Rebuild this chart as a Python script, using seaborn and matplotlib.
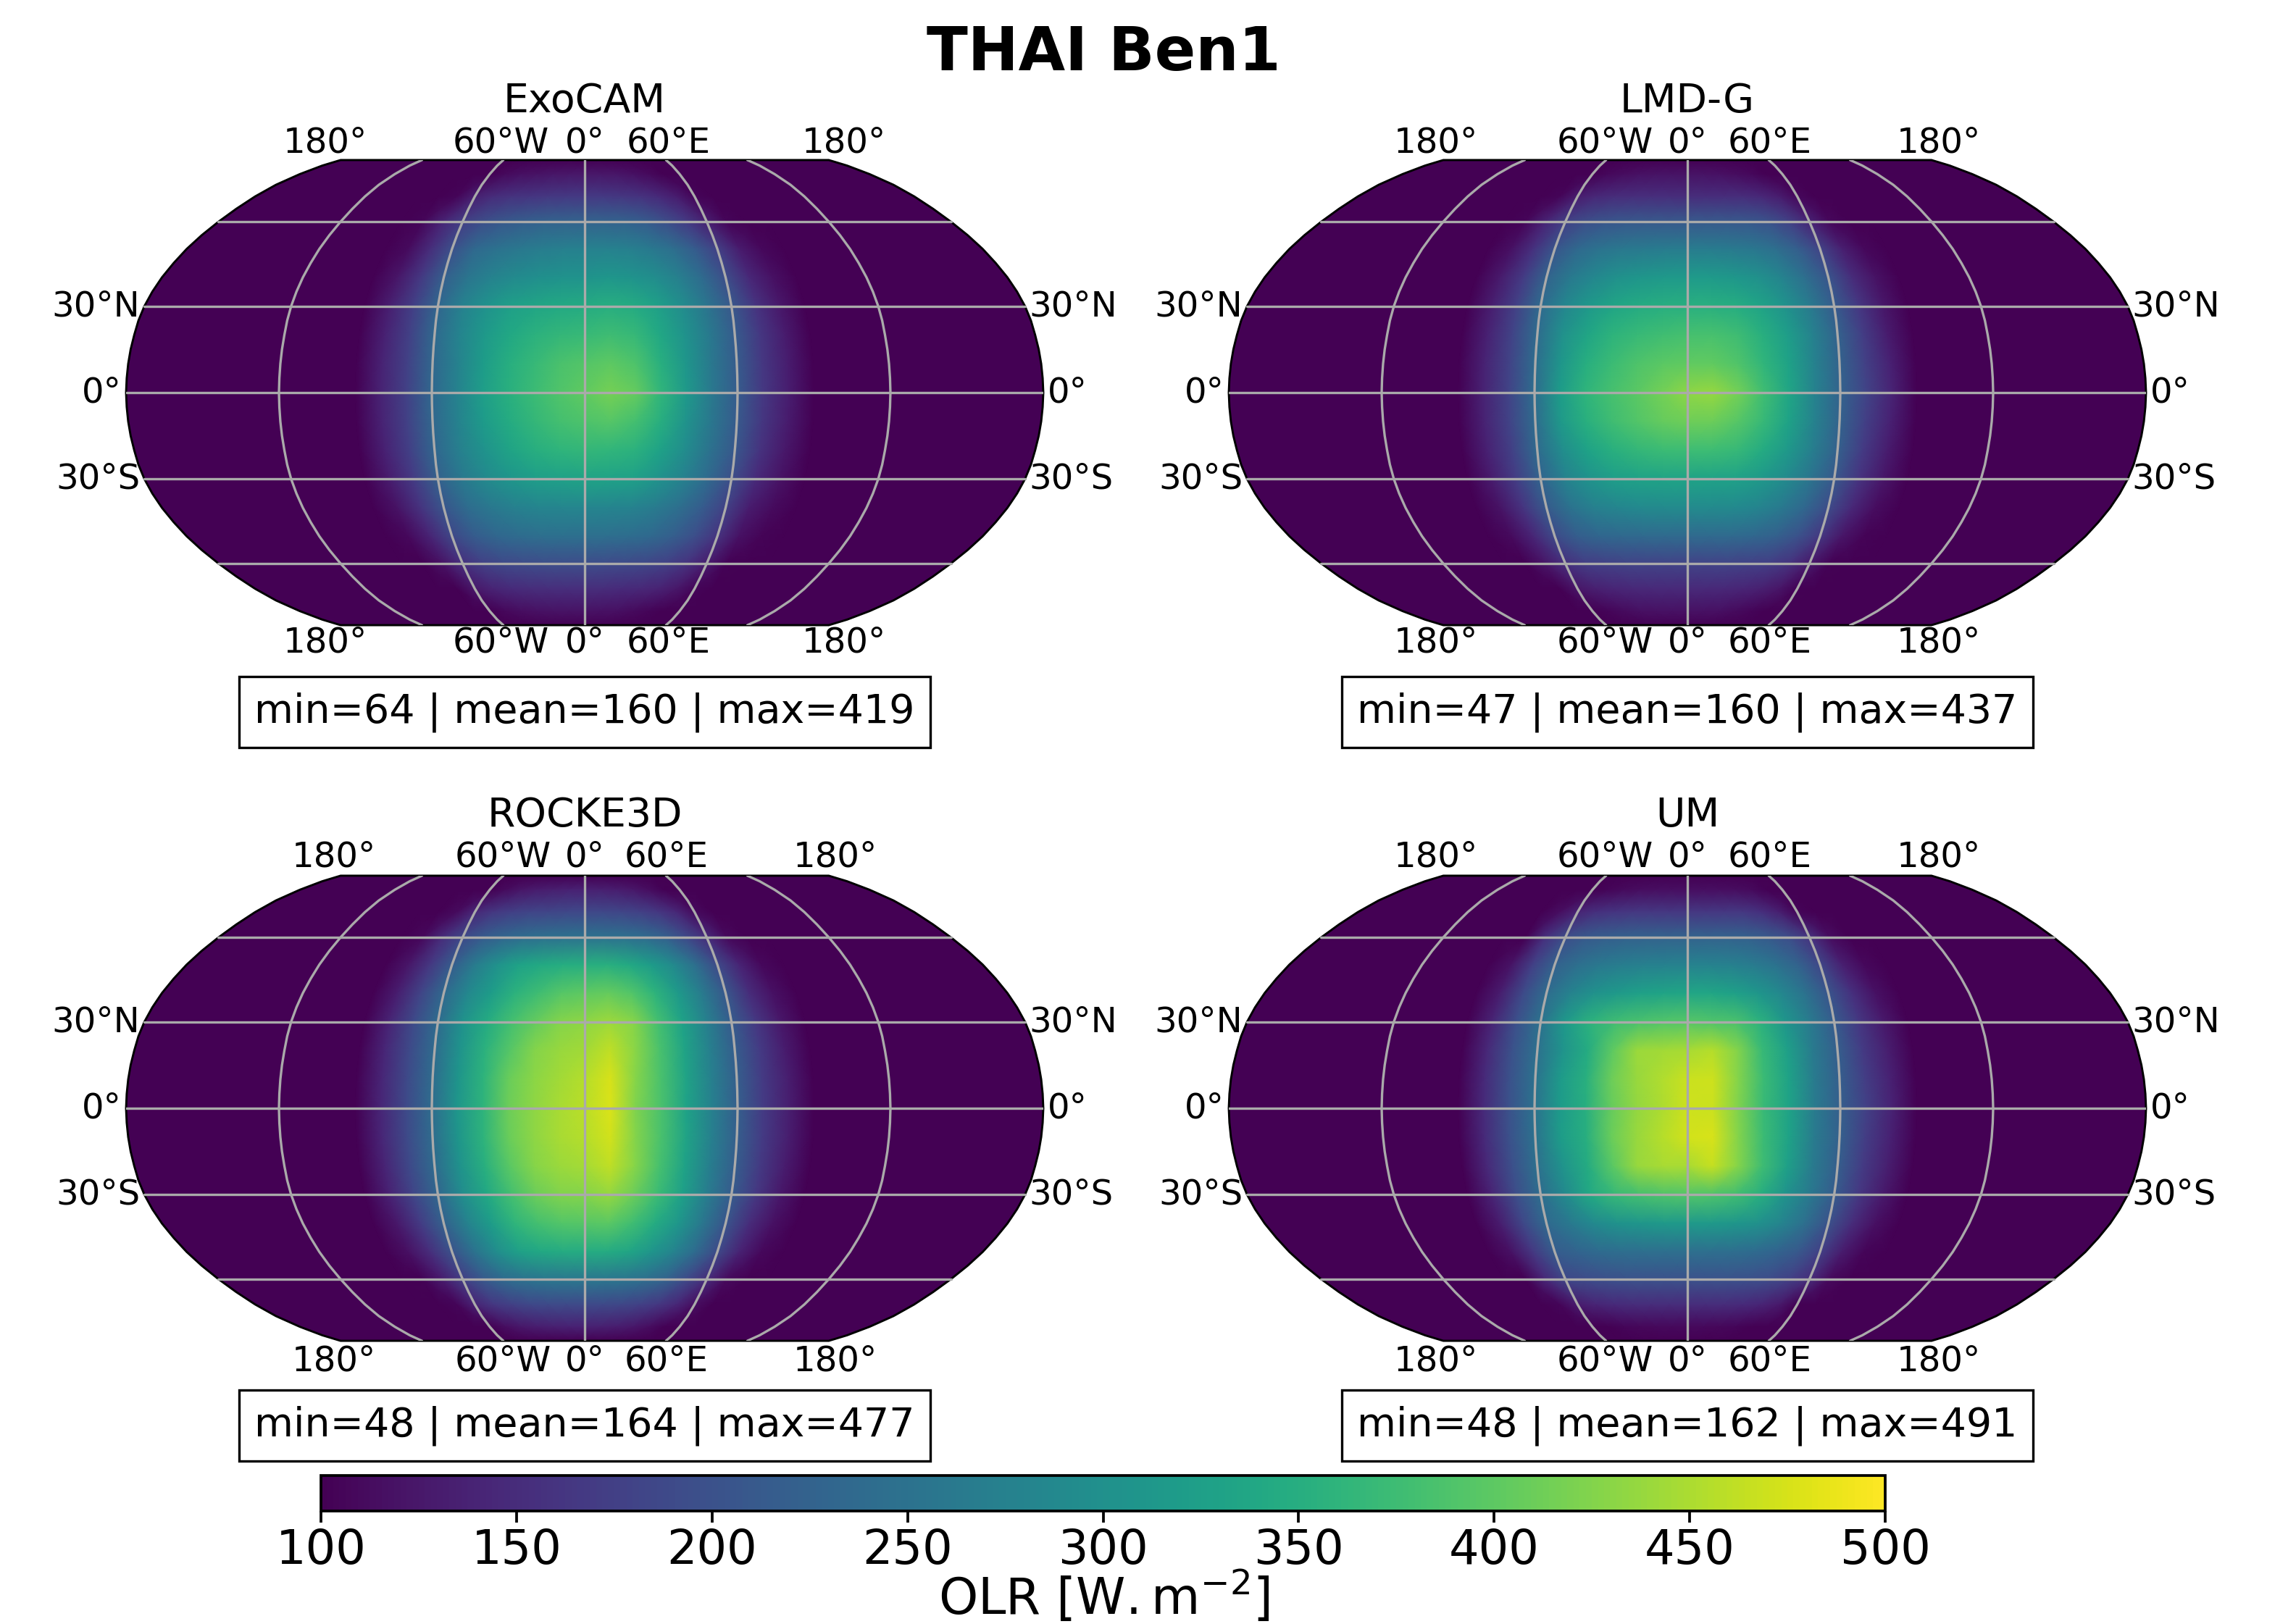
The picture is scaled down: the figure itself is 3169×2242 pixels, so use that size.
import numpy as np
import seaborn as sns
import matplotlib.pyplot as plt
from matplotlib.colors import Normalize
from matplotlib.cm import ScalarMappable
from matplotlib.patches import Polygon

# OLR, rows go from 90N to 90S, columns from 90W to 90E
lat_nodes = [90, 80, 70, 60, 50, 40, 30, 20, 10, 0, -10, -20, -30, -40, -50, -60, -70, -80, -90]
lon_nodes = [-90, -80, -70, -60, -50, -40, -30, -20, -10, 0, 10, 20, 30, 40, 50, 60, 70, 80, 90]

exocam_olr = [
    [90, 90, 90, 90, 90, 90, 90, 90, 90, 90, 90, 90, 90, 90, 90, 90, 90, 90, 90],
    [90, 90, 90, 100, 110, 116, 120, 122, 124, 124, 124, 122, 118, 110, 100, 92, 90, 90, 90],
    [90, 90, 105, 135, 150, 158, 162, 165, 166, 166, 166, 164, 158, 148, 132, 105, 92, 90, 90],
    [90, 105, 140, 172, 195, 208, 218, 224, 226, 226, 226, 224, 215, 195, 170, 135, 105, 90, 90],
    [90, 112, 150, 198, 235, 250, 260, 268, 272, 274, 275, 272, 262, 245, 215, 178, 130, 108, 90],
    [90, 123, 165, 220, 255, 278, 290, 298, 303, 306, 310, 306, 295, 272, 238, 195, 145, 118, 90],
    [90, 133, 175, 232, 275, 305, 325, 335, 342, 345, 350, 345, 325, 295, 255, 210, 160, 125, 90],
    [90, 136, 178, 235, 280, 315, 340, 355, 365, 370, 375, 368, 340, 305, 262, 215, 165, 130, 90],
    [90, 138, 178, 232, 278, 320, 350, 368, 385, 393, 400, 388, 352, 310, 260, 215, 165, 132, 90],
    [90, 138, 178, 232, 278, 322, 352, 372, 390, 402, 417, 405, 362, 315, 260, 215, 165, 132, 90],
    [90, 138, 178, 232, 278, 318, 345, 365, 380, 388, 395, 380, 350, 305, 258, 213, 163, 130, 90],
    [90, 136, 175, 230, 272, 305, 332, 350, 360, 365, 362, 355, 330, 295, 250, 208, 158, 125, 90],
    [90, 130, 170, 222, 262, 290, 310, 322, 328, 332, 330, 325, 305, 275, 238, 195, 148, 120, 90],
    [90, 120, 158, 205, 240, 260, 272, 280, 282, 282, 280, 278, 265, 245, 215, 178, 130, 112, 90],
    [90, 108, 140, 185, 215, 232, 240, 245, 246, 245, 245, 242, 235, 220, 195, 160, 118, 104, 90],
    [90, 100, 120, 155, 178, 188, 192, 195, 195, 195, 192, 190, 185, 175, 158, 130, 102, 92, 90],
    [90, 90, 100, 125, 140, 148, 150, 152, 152, 152, 150, 148, 145, 138, 125, 105, 90, 90, 90],
    [90, 90, 90, 98, 108, 115, 118, 120, 120, 120, 118, 116, 112, 105, 98, 90, 90, 90, 90],
    [90, 90, 90, 90, 90, 90, 90, 90, 90, 90, 90, 90, 90, 90, 90, 90, 90, 90, 90],
]

lmdg_olr = [
    [90, 90, 90, 90, 90, 90, 90, 90, 90, 90, 90, 90, 90, 90, 90, 90, 90, 90, 90],
    [90, 90, 90, 98, 108, 114, 118, 120, 120, 120, 120, 118, 114, 108, 100, 92, 90, 90, 90],
    [90, 90, 105, 132, 145, 150, 152, 152, 152, 150, 150, 150, 150, 145, 132, 108, 92, 90, 90],
    [90, 106, 140, 175, 195, 205, 208, 210, 210, 210, 210, 210, 208, 200, 178, 140, 108, 90, 90],
    [90, 116, 155, 205, 235, 252, 260, 264, 266, 266, 266, 264, 258, 245, 220, 180, 135, 108, 90],
    [90, 128, 170, 225, 262, 285, 300, 310, 315, 316, 316, 312, 300, 280, 245, 205, 150, 120, 90],
    [90, 133, 178, 238, 285, 315, 335, 345, 350, 352, 352, 348, 332, 305, 265, 215, 165, 126, 90],
    [90, 136, 180, 240, 300, 335, 358, 370, 378, 382, 384, 375, 352, 322, 275, 225, 172, 130, 90],
    [90, 138, 180, 242, 310, 350, 372, 388, 398, 403, 403, 390, 362, 330, 278, 226, 178, 136, 90],
    [90, 138, 180, 242, 320, 360, 382, 397, 415, 432, 437, 415, 378, 335, 278, 226, 180, 140, 90],
    [90, 138, 180, 240, 315, 352, 375, 392, 405, 412, 410, 395, 368, 330, 276, 225, 176, 136, 90],
    [90, 136, 178, 238, 295, 330, 352, 365, 372, 374, 374, 368, 345, 315, 270, 222, 170, 130, 90],
    [90, 130, 172, 228, 275, 305, 322, 330, 332, 332, 330, 328, 315, 292, 255, 210, 160, 124, 90],
    [90, 120, 160, 212, 250, 272, 282, 288, 290, 290, 290, 288, 280, 262, 232, 192, 145, 113, 90],
    [90, 110, 142, 190, 218, 230, 235, 236, 236, 236, 236, 236, 232, 222, 200, 165, 122, 104, 90],
    [90, 100, 122, 155, 172, 178, 180, 180, 180, 180, 180, 180, 178, 172, 158, 128, 102, 92, 90],
    [90, 90, 100, 122, 135, 142, 145, 146, 146, 146, 146, 145, 142, 135, 122, 102, 90, 90, 90],
    [90, 90, 90, 96, 106, 112, 116, 118, 118, 118, 118, 116, 112, 106, 98, 90, 90, 90, 90],
    [90, 90, 90, 90, 90, 90, 90, 90, 90, 90, 90, 90, 90, 90, 90, 90, 90, 90, 90],
]

rocke3d_olr = [
    [90, 90, 90, 90, 90, 90, 90, 90, 90, 90, 90, 90, 90, 90, 90, 90, 90, 90, 90],
    [90, 90, 90, 100, 112, 122, 130, 134, 136, 136, 135, 132, 125, 115, 102, 92, 90, 90, 90],
    [90, 90, 112, 145, 165, 175, 182, 184, 186, 186, 186, 183, 178, 165, 145, 112, 92, 90, 90],
    [90, 108, 150, 188, 215, 232, 243, 248, 250, 250, 250, 248, 240, 222, 190, 150, 110, 90, 90],
    [90, 122, 165, 215, 265, 300, 330, 342, 348, 350, 352, 342, 320, 290, 245, 190, 140, 108, 90],
    [90, 132, 180, 235, 285, 320, 355, 375, 395, 400, 405, 392, 358, 315, 265, 208, 150, 118, 90],
    [90, 140, 190, 240, 302, 345, 380, 405, 425, 432, 442, 428, 380, 330, 272, 215, 165, 126, 90],
    [90, 143, 190, 240, 305, 355, 395, 425, 438, 444, 462, 430, 385, 332, 272, 218, 170, 130, 90],
    [90, 143, 190, 240, 308, 358, 408, 430, 445, 455, 475, 428, 385, 332, 272, 220, 170, 133, 90],
    [90, 143, 190, 240, 310, 358, 410, 432, 447, 458, 478, 422, 385, 330, 272, 220, 170, 133, 90],
    [90, 143, 190, 240, 308, 358, 408, 432, 447, 456, 472, 425, 385, 332, 272, 220, 170, 133, 90],
    [90, 140, 188, 238, 302, 352, 398, 428, 440, 446, 462, 428, 382, 330, 270, 218, 168, 130, 90],
    [90, 136, 182, 232, 295, 340, 380, 410, 424, 426, 436, 410, 372, 325, 268, 215, 165, 126, 90],
    [90, 126, 170, 222, 278, 320, 360, 380, 392, 395, 398, 378, 345, 310, 258, 205, 150, 118, 90],
    [90, 116, 152, 200, 250, 295, 325, 340, 345, 345, 345, 335, 310, 280, 238, 190, 138, 108, 90],
    [90, 102, 130, 172, 210, 238, 252, 258, 260, 260, 258, 255, 245, 225, 190, 150, 110, 92, 90],
    [90, 90, 105, 140, 165, 178, 186, 190, 190, 190, 188, 185, 178, 165, 145, 115, 92, 90, 90],
    [90, 90, 90, 100, 115, 125, 132, 135, 136, 136, 135, 132, 125, 115, 102, 92, 90, 90, 90],
    [90, 90, 90, 90, 90, 90, 90, 90, 90, 90, 90, 90, 90, 90, 90, 90, 90, 90, 90],
]

um_olr = [
    [90, 90, 90, 90, 90, 90, 90, 90, 90, 90, 90, 90, 90, 90, 90, 90, 90, 90, 90],
    [90, 90, 90, 95, 105, 110, 113, 115, 115, 115, 115, 115, 113, 110, 102, 92, 90, 90, 90],
    [90, 90, 115, 140, 155, 162, 165, 165, 165, 165, 165, 165, 165, 155, 135, 105, 90, 90, 90],
    [90, 100, 155, 195, 212, 220, 224, 225, 225, 225, 225, 225, 222, 212, 195, 160, 115, 94, 90],
    [90, 120, 175, 222, 245, 260, 268, 272, 274, 275, 275, 272, 265, 250, 225, 185, 135, 108, 90],
    [90, 130, 190, 240, 275, 300, 315, 325, 332, 335, 335, 325, 310, 285, 250, 205, 155, 118, 90],
    [90, 140, 198, 250, 315, 355, 375, 385, 392, 395, 390, 385, 355, 310, 265, 215, 165, 128, 90],
    [90, 146, 200, 248, 305, 345, 400, 440, 445, 448, 455, 425, 370, 325, 265, 220, 170, 133, 90],
    [90, 148, 200, 250, 318, 352, 410, 438, 452, 468, 470, 425, 372, 330, 265, 220, 172, 136, 90],
    [90, 148, 200, 250, 318, 350, 405, 435, 450, 470, 468, 422, 370, 330, 265, 220, 178, 138, 90],
    [90, 148, 200, 250, 320, 350, 408, 438, 455, 472, 475, 425, 372, 330, 265, 222, 172, 136, 90],
    [90, 146, 198, 248, 305, 345, 398, 438, 448, 447, 465, 428, 375, 325, 265, 220, 170, 133, 90],
    [90, 140, 194, 242, 290, 340, 368, 380, 388, 392, 388, 378, 350, 305, 262, 215, 165, 128, 90],
    [90, 130, 185, 235, 262, 288, 303, 310, 315, 315, 315, 310, 300, 280, 245, 200, 150, 116, 90],
    [90, 118, 165, 215, 228, 238, 243, 245, 245, 245, 245, 243, 238, 228, 210, 175, 130, 106, 90],
    [90, 100, 145, 185, 192, 198, 200, 200, 200, 200, 200, 200, 198, 192, 178, 150, 110, 92, 90],
    [90, 90, 105, 130, 142, 148, 150, 150, 150, 150, 150, 150, 148, 142, 128, 100, 90, 90, 90],
    [90, 90, 90, 92, 100, 105, 107, 108, 108, 108, 108, 107, 105, 100, 94, 90, 90, 90, 90],
    [90, 90, 90, 90, 90, 90, 90, 90, 90, 90, 90, 90, 90, 90, 90, 90, 90, 90, 90],
]

titles = ['ExoCAM', 'LMD-G', 'ROCKE3D', 'UM']
stats = ['min=64 | mean=160 | max=419', 'min=47 | mean=160 | max=437',
         'min=48 | mean=164 | max=477', 'min=48 | mean=162 | max=491']
panels = [exocam_olr, lmdg_olr, rocke3d_olr, um_olr]
cbar_ticks = [100, 150, 200, 250, 300, 350, 400, 450, 500]

# Robinson table, one entry every 5 degrees of latitude
rob_lat = np.arange(0, 95, 5)
rob_plen = [1.0, .9986, .9954, .99, .9822, .973, .96, .9427, .9216, .8962, .8679, .835,
            .7986, .7597, .7186, .6732, .6213, .5722, .5322]
rob_pdfe = [0, .062, .124, .186, .248, .31, .372, .434, .4958, .5571, .6176, .6769,
            .7346, .7903, .8435, .8936, .9394, .9761, 1.0]
ROB_H = 0.5072


def robinson(lon, lat):
    lon, lat = np.asarray(lon, float), np.asarray(lat, float)
    x = np.interp(np.abs(lat), rob_lat, rob_plen) * lon / 180
    y = np.sign(lat) * np.interp(np.abs(lat), rob_lat, rob_pdfe) * ROB_H
    return x, y


sns.set_style('white', {'text.color': 'black', 'axes.edgecolor': 'black', 'xtick.color': 'black',
                        'font.family': ['DejaVu Sans']})
cmap = sns.color_palette('viridis', as_cmap=True)
norm = Normalize(100, 500)

W, H = 3169, 2242
fig = plt.figure(figsize=(W / 300, H / 300), dpi=300)

half_w = 633
half_h = half_w * ROB_H
centers = [(807, 542), (2329, 542), (807, 1530), (2329, 1530)]
top_180 = [358, 347, 346, 347]
top_60 = [116, 114, 113, 114]
title_dy = [-402, -402, -404, -404]
box_dy = [441, 441, 438, 438]
top_dy = [-345, -345, -347, -347]
bottom_dy = [345, 345, 349, 349]


def put(px, py, s, **kw):
    return fig.text(px / W, 1 - py / H, s, ha=kw.pop('ha', 'center'), va=kw.pop('va', 'center'), **kw)


for i, olr in enumerate(panels):
    cx, cy = centers[i]
    ax = fig.add_axes([(cx - half_w) / W, 1 - (cy + half_h) / H, 2 * half_w / W, 2 * half_h / H])
    ax.set_xlim(-1, 1)
    ax.set_ylim(-ROB_H, ROB_H)
    ax.set_axis_off()

    # globe outline, night side is below the colour range
    edge_lat = np.linspace(-90, 90, 181)
    ox = np.r_[robinson(-180, edge_lat)[0], robinson(180, edge_lat[::-1])[0]]
    oy = np.r_[robinson(-180, edge_lat)[1], robinson(180, edge_lat[::-1])[1]]
    ax.add_patch(Polygon(np.c_[ox, oy], closed=True, facecolor=cmap(0.0), edgecolor='none'))

    lon_grid, lat_grid = np.meshgrid(lon_nodes, lat_nodes)
    X, Y = robinson(lon_grid, lat_grid)
    ax.pcolormesh(X, Y, np.array(olr, float), shading='gouraud', cmap=cmap, norm=norm, rasterized=True)

    # graticule
    for lat in [-60, -30, 0, 30, 60]:
        gx, gy = robinson(np.linspace(-180, 180, 100), np.full(100, lat))
        sns.lineplot(x=gx, y=gy, color='#aaaaaa', lw=0.8, ax=ax, sort=False, estimator=None, legend=False)
    for lon in [-120, -60, 0, 60, 120]:
        gx, gy = robinson(np.full(181, lon), edge_lat)
        sns.lineplot(x=gx, y=gy, color='#aaaaaa', lw=0.8, ax=ax, sort=False, estimator=None, legend=False)
    ax.add_patch(Polygon(np.c_[ox, oy], closed=True, facecolor='none', edgecolor='black', lw=0.7, clip_on=False))
    ax.set_xlabel('')
    ax.set_ylabel('')

    # labels
    put(cx, cy + title_dy[i], titles[i], fontsize=13.3)
    for dy in (top_dy[i], bottom_dy[i]):
        for dx, s in [(-top_180[i], '180°'), (-top_60[i], '60°W'), (0, '0°'), (top_60[i], '60°E'), (top_180[i], '180°')]:
            put(cx + dx, cy + dy, s, fontsize=11.6)
    for lat, s_l, s_r in [(30, '30°N', '30°N'), (0, '0°', '0°'), (-30, '30°S', '30°S')]:
        xe = robinson(180, lat)[0] * half_w
        ye = cy - robinson(180, lat)[1] * half_w
        put(cx - xe - 6, ye, s_l, fontsize=11.6, ha='right')
        put(cx + xe + 6, ye, s_r, fontsize=11.6, ha='left')
    put(cx, cy + box_dy[i], stats[i], fontsize=13.3,
        bbox=dict(facecolor='white', edgecolor='black', lw=0.8, pad=5.2))

put(1523, 73, 'THAI Ben1', fontsize=20, fontweight='bold')

# colour bar
cax = fig.add_axes([443 / W, 1 - 2086 / H, (2602 - 443) / W, 49 / H])
cb = fig.colorbar(ScalarMappable(norm=norm, cmap=cmap), cax=cax, orientation='horizontal', ticks=cbar_ticks)
cb.ax.tick_params(labelsize=15.7, bottom=True, length=3.9, width=0.9, pad=1.5)
cb.outline.set_linewidth(0.9)
put(1524, 2204, r'OLR [$\mathrm{W.m^{-2}}$]', fontsize=16.6)

fig.savefig('out.png', dpi=300)
